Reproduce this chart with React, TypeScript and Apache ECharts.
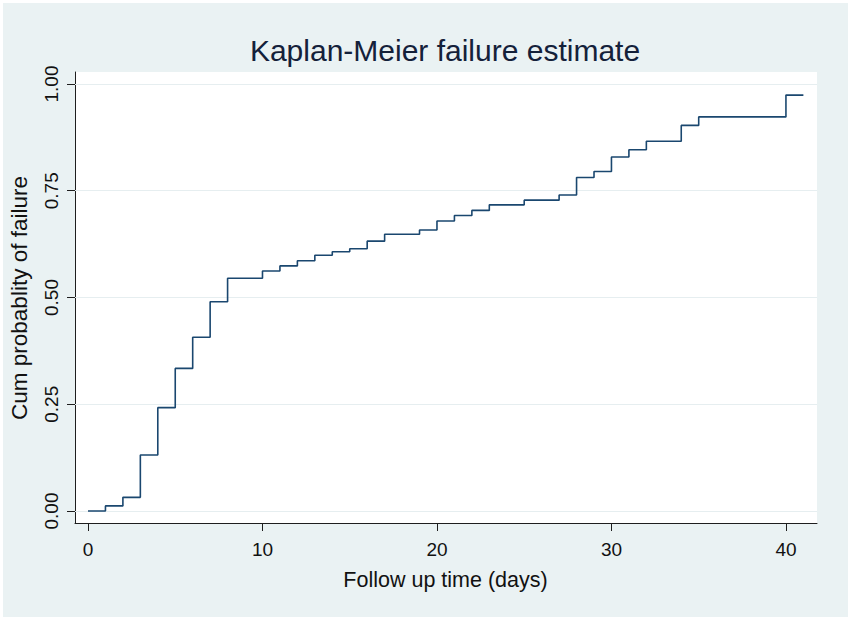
import React, { useEffect, useRef } from "react";
import * as echarts from "echarts";

// Kaplan-Meier failure estimate: step times (days) and cumulative failure probability
const times = [0, 1, 2, 3, 4, 5, 6, 7, 8, 10, 11, 12, 13, 14, 15, 16, 17, 19, 20, 21, 22, 23, 25, 27, 28, 29, 30, 31, 32, 34, 35, 40, 41];
const cumFailure = [0, 0.012, 0.032, 0.131, 0.242, 0.334, 0.407, 0.49, 0.545, 0.562, 0.574, 0.586, 0.599, 0.607, 0.614, 0.632, 0.648, 0.658, 0.679, 0.692, 0.704, 0.717, 0.728, 0.74, 0.781, 0.795, 0.829, 0.846, 0.866, 0.903, 0.923, 0.974, 0.974];

const xTicks = [0, 10, 20, 30, 40];
const yTicks = [0, 0.25, 0.5, 0.75, 1];

const titleText = "Kaplan-Meier failure estimate";
const xTitle = "Follow up time (days)";
const yTitle = "Cum probablity of failure";

export default function App() {
  const ref = useRef<HTMLDivElement>(null);

  useEffect(() => {
    const chart = echarts.init(ref.current!, null, { renderer: "svg" });
    const font = "'Liberation Sans', Arial, sans-serif";
    const axisColor = "#1e1e1e";
    const textColor = "#111111";

    chart.setOption({
      animation: false,
      backgroundColor: "#ffffff",
      graphic: [
        {
          type: "rect",
          z: -100,
          silent: true,
          shape: { x: 3, y: 3, width: 845, height: 614 },
          style: { fill: "#EAF2F3" },
        },
        {
          type: "text",
          x: 445,
          y: 50,
          style: {
            text: titleText,
            fontSize: 30,
            fontFamily: font,
            fill: "#14213a",
            align: "center",
            verticalAlign: "middle",
          },
        },
        {
          type: "text",
          x: 445.5,
          y: 580,
          style: {
            text: xTitle,
            fontSize: 21.5,
            fontFamily: font,
            fill: textColor,
            align: "center",
            verticalAlign: "middle",
          },
        },
        {
          type: "text",
          x: 19.5,
          y: 298,
          rotation: Math.PI / 2,
          style: {
            text: yTitle,
            fontSize: 22.5,
            fontFamily: font,
            fill: textColor,
            align: "center",
            verticalAlign: "middle",
          },
        },
      ],
      grid: {
        left: 75,
        top: 72,
        width: 742,
        height: 451,
        show: true,
        backgroundColor: "#ffffff",
        borderWidth: 0,
      },
      xAxis: {
        type: "value",
        min: -0.745,
        max: 41.78,
        axisLine: { show: true, onZero: false, lineStyle: { color: axisColor, width: 1 } },
        axisTick: { show: true, customValues: xTicks, length: 8, lineStyle: { color: axisColor, width: 1 } },
        axisLabel: {
          customValues: xTicks,
          margin: 17,
          fontSize: 19,
          color: textColor,
          fontFamily: font,
        },
        splitLine: { show: false },
      },
      yAxis: {
        type: "value",
        min: -0.0281,
        max: 1.0281,
        axisLine: { show: true, onZero: false, lineStyle: { color: axisColor, width: 1 } },
        axisTick: { show: true, customValues: yTicks, length: 8, lineStyle: { color: axisColor, width: 1 } },
        axisLabel: {
          customValues: yTicks,
          rotate: 90,
          margin: 14,
          fontSize: 19,
          color: textColor,
          fontFamily: font,
          formatter: (v: number) => v.toFixed(2),
        },
        splitLine: { show: false },
      },
      series: [
        {
          type: "line",
          data: [],
          z: 1,
          silent: true,
          markLine: {
            silent: true,
            z: 1,
            symbol: ["none", "none"],
            label: { show: false },
            lineStyle: { color: "#e6eef0", width: 1, type: "solid" },
            data: yTicks.map((v) => ({ yAxis: v })),
          },
        },
        {
          type: "line",
          step: "end",
          z: 6,
          symbol: "none",
          showSymbol: false,
          data: times.map((t, i) => [t, cumFailure[i]]),
          lineStyle: { color: "#1A476F", width: 1.6 },
        },
      ],
    });

    return () => chart.dispose();
  }, []);

  return (
    <div
      ref={ref}
      style={{ position: "fixed", left: 0, top: 0, width: 851, height: 620 }}
    />
  );
}
